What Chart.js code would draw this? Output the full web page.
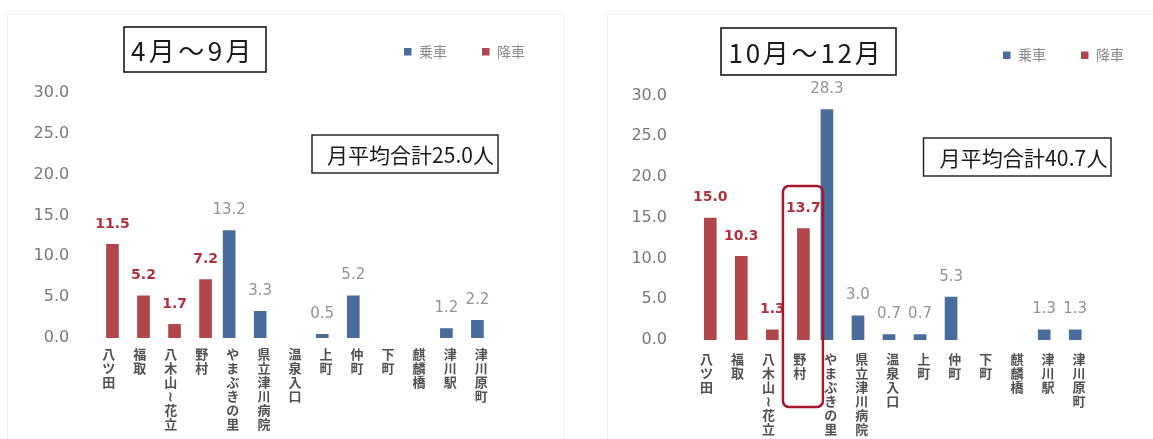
<!DOCTYPE html>
<html><head><meta charset="utf-8">
<script src="https://cdn.jsdelivr.net/npm/chart.js@4.4.1/dist/chart.umd.min.js"></script>
<style>
html,body{margin:0;padding:0;background:#fff;width:1153px;height:439px;overflow:hidden}
canvas{position:absolute;top:0}
#c1{left:0}
#c2{left:576px}
</style></head><body>
<canvas id="c1" width="576" height="439"></canvas>
<canvas id="c2" width="577" height="439"></canvas>
<script>
// ---- data ----
const categories = ['八ツ田','福取','八木山～花立','野村','やまぶきの里','県立津川病院','温泉入口','上町','仲町','下町','麒麟橋','津川駅','津川原町'];
const seriesNames = ['乗車','降車'];
const aprSepBoarding  = [null,null,null,null,13.2,3.3,null,0.5,5.2,null,null,1.2,2.2];
const aprSepAlighting = [11.5,5.2,1.7,7.2,null,null,null,null,null,null,null,null,null];
const octDecBoarding  = [null,null,null,null,28.3,3.0,0.7,0.7,5.3,null,null,1.3,1.3];
const octDecAlighting = [15.0,10.3,1.3,13.7,null,null,null,null,null,null,null,null,null];
const yTicks = [0,5,10,15,20,25,30];
const panelTitles = ['4月～9月','10月～12月'];
const panelTotals = ['月平均合計25.0人','月平均合計40.7人'];

// ---- style ----
const BLUE = '#4a6c9d';
const RED = '#b1474a';
const RED_LABEL = '#b2323c';
const BLUE_LABEL = '#8d959b';
const CJK = '"Noto Sans CJK JP","Noto Sans CJK SC",sans-serif';

function verticalLabel(s){
  return Array.from(s.replace('～','≀'));
}

function fitText(ctx, text, x, y, target){
  ctx.letterSpacing = '0px';
  const w0 = ctx.measureText(text).width;
  const n = Array.from(text).length;
  const ls = (target - w0) / n;
  ctx.letterSpacing = ls + 'px';
  ctx.fillText(text, x, y);
  ctx.letterSpacing = '0px';
}

function drawLabel(ctx, el, v, dsIndex){
  ctx.save();
  if (dsIndex === 1){
    ctx.font = 'bold 14px "DejaVu Sans"';
    ctx.fillStyle = RED_LABEL;
  } else {
    ctx.font = '15px "DejaVu Sans"';
    ctx.fillStyle = BLUE_LABEL;
  }
  ctx.textAlign = 'center';
  ctx.textBaseline = 'middle';
  ctx.fillText(v.toFixed(1), el.x, el.y - 20);
  ctx.restore();
}

function forEachLabel(chart, fn){
  chart.data.datasets.forEach((ds, di) => {
    const meta = chart.getDatasetMeta(di);
    ds.data.forEach((v, j) => {
      if (v === null || v === undefined) return;
      fn(meta.data[j], v, di, j);
    });
  });
}

function decor(cfg){
  return {
    id: 'decor',
    beforeDraw(chart){
      const ctx = chart.ctx;
      ctx.save();
      ctx.strokeStyle = '#f1f1f1';
      ctx.lineWidth = 1;
      ctx.strokeRect(cfg.frame.x + 0.5, cfg.frame.y + 0.5, cfg.frame.w, 600);
      ctx.restore();
    },
    beforeDatasetsDraw(chart){
      const ctx = chart.ctx;
      const hl = cfg.highlight;
      forEachLabel(chart, (el, v, di, j) => {
        if (hl && j === hl.index) return;
        drawLabel(ctx, el, v, di);
      });
      if (hl){
        const cx = chart.scales.x.getPixelForValue(hl.index);
        ctx.save();
        ctx.fillStyle = '#ffffff';
        ctx.beginPath();
        ctx.roundRect(cx + hl.dx1, hl.top, hl.dx2 - hl.dx1, chart.chartArea.bottom - hl.top, [6,6,0,0]);
        ctx.fill();
        ctx.restore();
      }
    },
    afterDatasetsDraw(chart){
      const ctx = chart.ctx;
      const hl = cfg.highlight;
      if (hl){
        const cx = chart.scales.x.getPixelForValue(hl.index);
        ctx.save();
        ctx.strokeStyle = '#a3192b';
        ctx.lineWidth = 2.5;
        ctx.beginPath();
        ctx.roundRect(cx + hl.dx1, hl.top, hl.dx2 - hl.dx1, chart.chartArea.bottom + hl.bottomExtra - hl.top, 6);
        ctx.stroke();
        ctx.restore();
        forEachLabel(chart, (el, v, di, j) => {
          if (j === hl.index) drawLabel(ctx, el, v, di);
        });
      }
    },
    afterDraw(chart){
      const ctx = chart.ctx;
      ctx.save();
      // title box
      const t = cfg.title;
      ctx.fillStyle = '#fff';
      ctx.fillRect(t.x, t.y, t.w, t.h);
      ctx.strokeStyle = '#1a1a1a';
      ctx.lineWidth = 1.6;
      ctx.strokeRect(t.x, t.y, t.w, t.h);
      ctx.fillStyle = '#1a1a1a';
      ctx.font = '26px ' + CJK;
      ctx.textAlign = 'left';
      ctx.textBaseline = 'middle';
      fitText(ctx, t.text, t.x + t.tx, t.y + t.h / 2 + 2, t.tw);
      // total box
      const s = cfg.total;
      ctx.fillStyle = '#fff';
      ctx.fillRect(s.x, s.y, s.w, s.h);
      ctx.lineWidth = 1.4;
      ctx.strokeRect(s.x, s.y, s.w, s.h);
      ctx.fillStyle = '#1a1a1a';
      ctx.font = '21px ' + CJK;
      fitText(ctx, s.text, s.x + s.tx, s.y + s.h / 2 + 1.5, s.tw);
      // legend
      const L = cfg.legend;
      ctx.font = '14px ' + CJK;
      ctx.textBaseline = 'middle';
      chart.data.datasets.forEach((ds, i) => {
        const x = L.x + i * L.step;
        ctx.fillStyle = ds.backgroundColor;
        ctx.fillRect(x, L.y - 3.5, 7.5, 7.5);
        ctx.fillStyle = '#8a8a8a';
        ctx.fillText(ds.label, x + 15, L.y);
      });
      ctx.restore();
    }
  };
}

function makeChart(id, boarding, alighting, cfg){
  return new Chart(document.getElementById(id), {
    type: 'bar',
    data: {
      labels: categories.map(verticalLabel),
      datasets: [
        {label: seriesNames[0], data: boarding, backgroundColor: BLUE, categoryPercentage: 0.483, barPercentage: 1.69},
        {label: seriesNames[1], data: alighting, backgroundColor: RED, categoryPercentage: 0.483, barPercentage: 1.69}
      ]
    },
    options: {
      responsive: false,
      animation: false,
      devicePixelRatio: 1,
      layout: {padding: {left: 0, right: cfg.padRight, top: cfg.top, bottom: 0}},
      plugins: {legend: {display: false}, tooltip: {enabled: false}, title: {display: false}},
      scales: {
        x: {
          grid: {display: false, drawTicks: false},
          border: {display: false},
          ticks: {
            autoSkip: false, maxRotation: 0, minRotation: 0,
            padding: cfg.xPad,
            color: '#505050',
            font: {family: CJK, size: 13, weight: 'bold', lineHeight: 14 / 13}
          },
          afterFit(s){ s.height = 439 - cfg.bottom; }
        },
        y: {
          min: 0, max: 30,
          afterBuildTicks(s){ s.ticks = yTicks.map(v => ({value: v})); },
          grid: {display: false, drawTicks: false},
          border: {display: false},
          ticks: {
            padding: 24,
            color: '#787878',
            font: {family: '"DejaVu Sans"', size: 16},
            callback: v => Number(v).toFixed(1)
          },
          afterFit(s){ s.width = cfg.left; }
        }
      }
    },
    plugins: [decor(cfg)]
  });
}

makeChart('c1', aprSepBoarding, aprSepAlighting, {
  left: 93.2, padRight: 79.3, top: 93, bottom: 338, xPad: 9,
  frame: {x: 7, y: 14, w: 557},
  title: {x: 124, y: 27, w: 142, h: 45, text: panelTitles[0], tx: 7, tw: 124},
  total: {x: 312, y: 135, w: 186, h: 38, text: panelTotals[0], tx: 15, tw: 167},
  legend: {x: 404, y: 51.5, step: 78}
});

makeChart('c2', octDecBoarding, octDecAlighting, {
  left: 115, padRight: 58.5, top: 95.4, bottom: 340, xPad: 12,
  frame: {x: 31, y: 14, w: 700},
  title: {x: 145, y: 28, w: 175, h: 47, text: panelTitles[1], tx: 7.5, tw: 155},
  total: {x: 347.5, y: 138, w: 187.5, h: 38, text: panelTotals[1], tx: 16, tw: 168},
  legend: {x: 427, y: 55, step: 78},
  highlight: {index: 3, dx1: -16.7, dx2: 23.3, top: 186, bottomExtra: 67}
});
</script>
</body></html>
